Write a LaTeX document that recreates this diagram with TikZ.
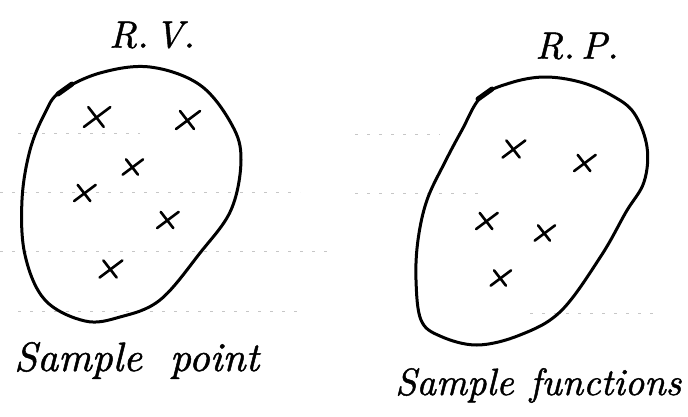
\documentclass[tikz,border=0pt]{standalone}
\usepackage{fontspec}
\newfontfamily\handfont{lmroman10-italic}[Extension=.otf, FakeBold=1.2]
\begin{document}
\begin{tikzpicture}[x=1pt,y=-1pt,
  blob/.style={line width=3pt, line join=round},
  crs/.style={line width=2.6pt, line cap=round},
  rule/.style={gray!45, line width=0.6pt, dash pattern=on 3pt off 9pt},
  hand/.style={font=\handfont\fontsize{38}{38}\selectfont, inner sep=0pt}]
\useasboundingbox (0,0) rectangle (688,416);
% faint ruled-paper lines
\draw[rule] (18,133) -- (140,133);
\draw[rule] (0,192) -- (300,192);
\draw[rule] (0,251) -- (330,251);
\draw[rule] (18,311) -- (300,311);
\draw[rule] (355,134) -- (440,134);
\draw[rule] (355,193) -- (480,193);
\draw[rule] (530,313) -- (660,313);
% left blob
\draw[blob] plot[smooth cycle, tension=0.6] coordinates {
  (60,92) (100,73) (150,67) (200,85) (232,125) (241,160) (231,210)
  (200,253) (160,300) (120,317) (85,321) (45,300) (25,255) (22,200)
  (30,150) (45,113)};
\draw[line width=5pt, line cap=round] (58,94) -- (72,84);
% right blob
\draw[blob] plot[smooth cycle, tension=0.6] coordinates {
  (481,97) (510,83) (544,77) (580,82) (611,95) (634,113) (647,147)
  (644,182) (626,212) (601,256) (561,311) (520,335) (477,345)
  (440,336) (421,320) (416,280) (418,240) (427,200) (445,162) (462,130)};
\draw[line width=5pt, line cap=round] (478,99) -- (492,89);
% crosses
\foreach \n/\x/\y/\s in {a1/96/117/1.1, a2/187/120/1, a3/132/167/0.85,
  a4/84/193/0.9, a5/167/220/0.9, a6/110/269/0.95,
  b1/513/149/0.95, b2/584/163/0.9, b3/486/221/0.9, b4/544/233/0.85, b5/500/278/0.85}{
  \coordinate (\n) at (\x,\y);
  \draw[crs] ([shift={(-11*\s,9*\s)}]\n) -- ([shift={(13*\s,-9*\s)}]\n);
  \draw[crs] ([shift={(-7*\s,-9*\s)}]\n) -- ([shift={(7*\s,9*\s)}]\n);
}
% labels
\node[hand] (rv) at (152,35) {R.\,V.};
\node[hand] (rp) at (577,46) {R.\,P.};
\node[hand, font=\handfont\fontsize{41}{41}\selectfont, anchor=base west] (sp) at (14,371) {Sample\hspace{28pt}point};
\node[hand, anchor=base west] (sf) at (395,395) {Sample\hspace{16pt}functions};
\end{tikzpicture}
\end{document}
